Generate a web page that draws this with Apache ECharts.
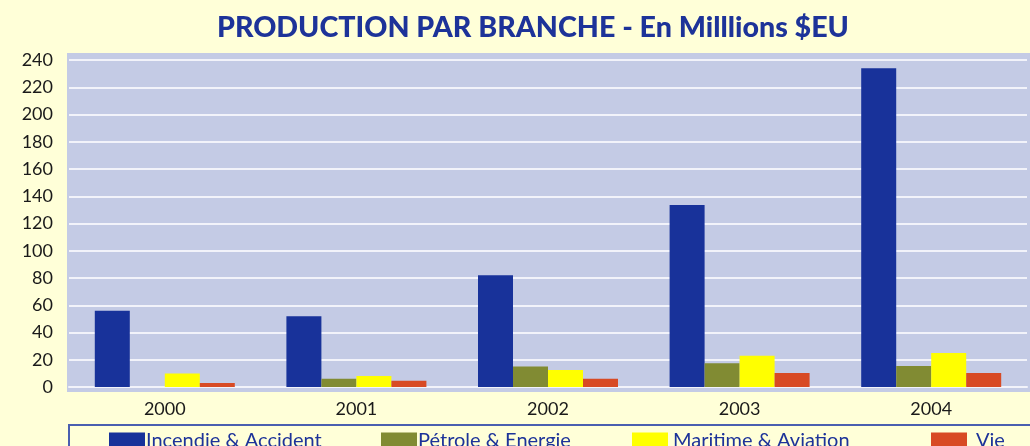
<!DOCTYPE html>
<html>
<head>
<meta charset="utf-8">
<script src="https://cdn.jsdelivr.net/npm/echarts@6/dist/echarts.min.js"></script>
<style>
  html, body { margin: 0; padding: 0; background: #ffffd8; }
  #chart { width: 1030px; height: 446px; }
</style>
</head>
<body>
<div id="chart"></div>
<script>
var years = ['2000', '2001', '2002', '2003', '2004'];
var seriesNames = ['Incendie & Accident', 'Pétrole & Energie', 'Maritime & Aviation', 'Vie'];
var incendie = [56, 52, 82, 133.5, 234];
var petrole = [0, 6, 15, 17.5, 15.5];
var maritime = [10, 8, 12.5, 23, 25];
var vie = [3, 4.5, 6, 10.3, 10.3];
var colors = ['#18329a', '#818b33', '#ffff00', '#d84a24'];

var myChart = echarts.init(document.getElementById('chart'));

var fontFam = 'Lato, "DejaVu Sans", sans-serif';
var legendLeft = [109, 381, 632, 931];
var legendTextPad = [-4, -4, 0, 4];

// une légende par série pour garder les positions d'origine
var legends = [];
for (var i = 0; i < seriesNames.length; i++) {
	legends.push({
		data: [seriesNames[i]],
		left: legendLeft[i],
		top: 431,
		padding: 0,
		itemWidth: 36,
		itemHeight: 17,
		icon: 'rect',
		selectedMode: false,
		textStyle: {
			color: '#1d3399',
			fontSize: 20,
			fontFamily: fontFam,
			padding: [0, 0, 0, legendTextPad[i]]
		}
	});
}

var datas = [incendie, petrole, maritime, vie];
var series = [];
for (var i = 0; i < datas.length; i++) {
	series.push({
		name: seriesNames[i],
		type: 'bar',
		data: datas[i],
		barWidth: 35,
		barGap: '0%',
		itemStyle: { color: colors[i] }
	});
}

var option = {
	animation: false,
	backgroundColor: '#ffffd8',
	color: colors,
	title: {
		text: 'PRODUCTION PAR BRANCHE - En Milllions $EU',
		left: 212,
		top: 8,
		textStyle: {
			color: '#1d3399',
			fontSize: 28.6,
			fontWeight: 900,
			fontFamily: fontFam
		}
	},
	graphic: [
		{
			type: 'rect',
			z: -10,
			shape: { x: 67, y: 53, width: 970, height: 339 },
			style: { fill: '#c4cbe5' }
		},
		{
			type: 'rect',
			z: -10,
			shape: { x: 69, y: 425, width: 980, height: 40 },
			style: { fill: 'none', stroke: '#4a5fb0', lineWidth: 2 }
		}
	],
	legend: legends,
	grid: {
		left: 69,
		right: 3,
		top: 60,
		bottom: 59
	},
	xAxis: {
		type: 'category',
		data: years,
		axisTick: { show: false },
		axisLine: { lineStyle: { color: '#f2f3fa', width: 2 } },
		axisLabel: {
			color: '#1a1a1a',
			fontSize: 18,
			fontFamily: fontFam,
			margin: 13
		}
	},
	yAxis: {
		type: 'value',
		min: 0,
		max: 240,
		interval: 20,
		axisLine: { show: false },
		axisTick: { show: false },
		axisLabel: {
			color: '#1a1a1a',
			fontSize: 18,
			fontFamily: fontFam,
			margin: 16
		},
		splitLine: { lineStyle: { color: '#f2f3fa', width: 2 } }
	},
	series: series
};

myChart.setOption(option);
</script>
</body>
</html>
